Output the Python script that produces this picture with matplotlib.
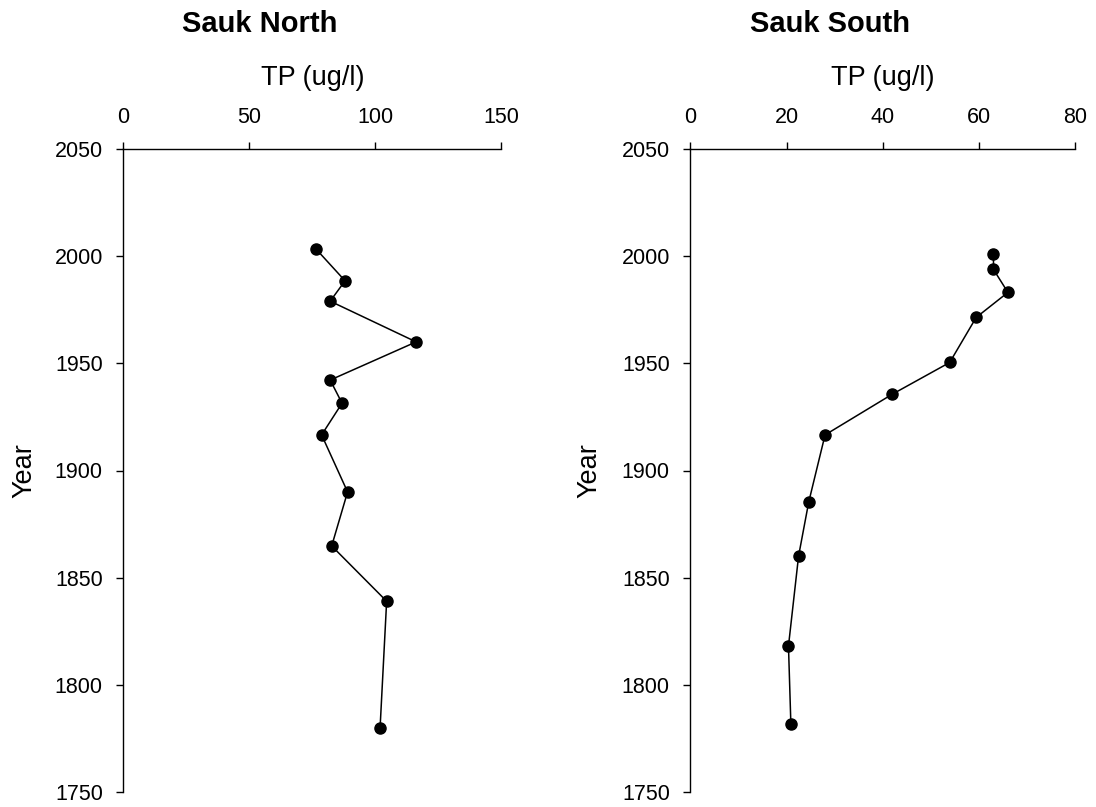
import matplotlib
matplotlib.use("Agg")
import matplotlib.pyplot as plt

plt.rcParams['font.family'] = ['Liberation Sans', 'DejaVu Sans']

# Sauk North sediment core: total phosphorus vs. year
north_year = [2003.3, 1988.5, 1979.0, 1960.0, 1942.2, 1931.4, 1916.6, 1890.0, 1864.8, 1839.0, 1780.0]
north_tp = [76.5, 88.0, 82.1, 116.2, 82.1, 86.8, 78.7, 89.0, 82.7, 104.5, 101.9]

# Sauk South sediment core
south_year = [2000.8, 1993.8, 1983.1, 1971.4, 1950.4, 1935.5, 1916.6, 1885.2, 1860.1, 1818.1, 1781.6]
south_tp = [63.0, 63.0, 66.0, 59.4, 53.9, 41.9, 28.0, 24.6, 22.5, 20.4, 20.9]

north_xticks = [0, 50, 100, 150]
south_xticks = [0, 20, 40, 60, 80]
year_ticks = [1750, 1800, 1850, 1900, 1950, 2000, 2050]

W, H = 1096, 807
fig = plt.figure(figsize=(W / 100, H / 100), dpi=100)

TICK_FS = 15.5
LABEL_FS = 19.5
TITLE_FS = 21


def panel(left_px, right_px, tp, year, xticks, title):
    top_px, bottom_px = 149, 792
    ax = fig.add_axes([left_px / W, 1 - bottom_px / H,
                       (right_px - left_px) / W, (bottom_px - top_px) / H])
    ax.plot(tp, year, color='black', lw=1.1, marker='o', markersize=8,
            markerfacecolor='black', markeredgecolor='black', clip_on=False)
    ax.set_xlim(xticks[0], xticks[-1])
    ax.set_ylim(year_ticks[0], year_ticks[-1])
    ax.set_xticks(xticks)
    ax.set_yticks(year_ticks)
    ax.xaxis.tick_top()
    ax.spines['bottom'].set_visible(False)
    ax.spines['right'].set_visible(False)
    for s in ('left', 'top'):
        ax.spines[s].set_linewidth(1.0)
    ax.tick_params(axis='x', direction='out', length=7 * 0.72, width=1.0,
                   labelsize=TICK_FS, pad=10)
    ax.tick_params(axis='y', direction='out', length=7 * 0.72, width=1.0,
                   labelsize=TICK_FS, pad=9.7)
    ax.xaxis.set_label_position('top')
    ax.set_xlabel('TP (ug/l)', fontsize=LABEL_FS)
    ax.xaxis.set_label_coords(0.5, 1 + (149 - 85) / (bottom_px - top_px))
    ax.set_ylabel('Year', fontsize=LABEL_FS)
    ax.yaxis.set_label_coords(-(123.3 - 37) / 378, 0.5)
    ax.text(0.362, 1 + (149 - 31.7) / (bottom_px - top_px), title,
            transform=ax.transAxes, ha='center', va='baseline',
            fontsize=TITLE_FS, fontweight='bold')
    return ax


panel(123.3, 501.3, north_tp, north_year, north_xticks, 'Sauk North')
panel(690.3, 1075.3, south_tp, south_year, south_xticks, 'Sauk South')

fig.savefig('out.png', dpi=100)
